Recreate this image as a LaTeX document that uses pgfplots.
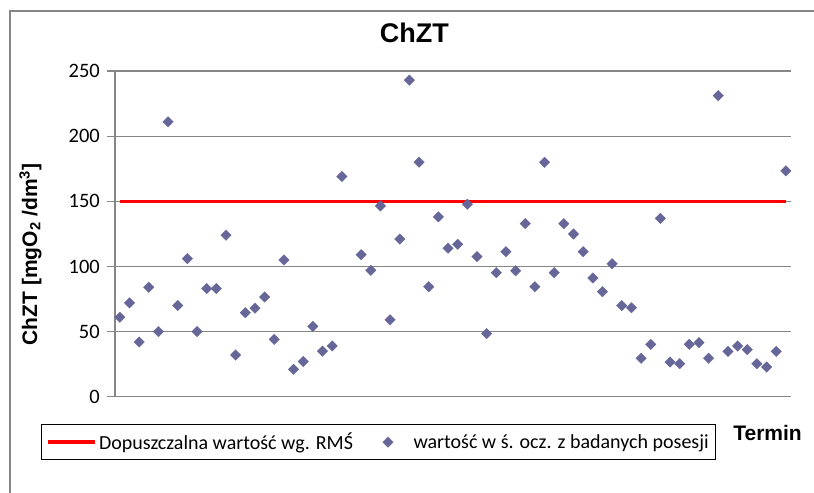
\documentclass[border=0pt]{standalone}
\usepackage{fontspec}
\setmainfont{Carlito}
\newfontfamily\arialf{Liberation Sans}
\usepackage{pgfplots}
\pgfplotsset{compat=1.18}
\definecolor{gridg}{RGB}{134,134,134}
\definecolor{mk}{RGB}{102,102,153}
\pgfplotsset{
  mylineleg/.style={legend image code/.code={\draw[##1] (0bp,0bp) -- (47bp,0bp);}},
  mymarkleg/.style={legend image code/.code={\draw[##1] plot coordinates {(23.5bp,0bp)}; \path (0bp,0bp) (47bp,0bp);}},
}
\begin{document}
\begin{tikzpicture}
\useasboundingbox (-115bp,-96.3bp) rectangle (699bp,396.7bp);
\draw[gridg, line width=1.2bp] (-105bp,-200bp) -- (-105bp,385.7bp) -- (820bp,385.7bp);
\begin{axis}[
  at={(0,0)}, anchor=south west,
  scale only axis,
  width=675.7bp, height=325.7bp,
  xmin=0.5, xmax=70.5,
  ymin=0, ymax=250,
  ytick={0,50,100,150,200,250},
  xtick=\empty,
  axis x line=bottom, axis y line=left,
  axis line style={gridg, line width=1.2bp, -},
  ymajorgrids,
  major grid style={gridg, line width=1.2bp},
  tick align=outside,
  major tick length=7.7bp,
  tick style={gridg, line width=1.2bp},
  /pgf/number format/assume math mode=true,
  ticklabel style={font=\fontsize{20.5bp}{24bp}\selectfont, black},
  yticklabel style={xshift=-4bp},
  clip=false,
  title={\arialf\bfseries ChZT},
  title style={at={(axis description cs:0.443,1)}, anchor=base, yshift=22.5bp, font=\fontsize{27bp}{30bp}\selectfont},
  xlabel={\arialf\bfseries Termin},
  xlabel style={at={(axis description cs:0.9657,-0.135)}, anchor=base, font=\fontsize{21bp}{24bp}\selectfont},
  ylabel={\arialf\bfseries ChZT [mgO\textsubscript{2} /dm\textsuperscript{3}]},
  ylabel style={at={(axis description cs:-0.125,0.437)}, anchor=center, rotate=0, font=\fontsize{21bp}{24bp}\selectfont},
  legend columns=2,
  legend style={at={(axis description cs:-0.1095,-0.0838)}, anchor=north west,
    draw=black, line width=1bp, font=\fontsize{20bp}{24bp}\selectfont,
    inner xsep=5bp, inner ysep=6.5bp},
]
\addplot[red, line width=3.5bp, mark=none, mylineleg]
  coordinates {(1,150) (70,150)};
\addlegendentry{Dopuszczalna wartość wg. RMŚ\rule{9.5bp}{0pt}}
\addplot[draw=none, mark=square*, mark size=3.75bp,
  mark options={rotate=45, fill=mk, draw=mk, line width=0.2bp}, mymarkleg]
  table {
x y
1 61
2 72
3 42
4 84
5 50
6 211
7 70
8 106
9 50
10 83
11 83
12 124
13 32
14 64.5
15 68
16 76.5
17 44
18 105
19 21
20 27
21 54
22 35
23 39
24 169
26 109
27 97
28 146.4
29 59
30 121
31 243
32 180
33 84.4
34 138
35 114
36 117
37 147.7
38 107.5
39 48.4
40 95.2
41 111.3
42 96.7
43 132.8
44 84.4
45 179.9
46 95.2
47 132.8
48 124.9
49 111.3
50 91.1
51 80.6
52 102.1
53 69.9
54 68.3
55 29.5
56 40.2
57 136.9
58 26.6
59 25.3
60 40.2
61 41.5
62 29.5
63 231.1
64 34.8
65 38.9
66 36.1
67 25.3
68 22.8
69 34.8
70 173.3
};
\addlegendentry{wartość w ś. ocz. z badanych posesji}
\end{axis}
\end{tikzpicture}
\end{document}
